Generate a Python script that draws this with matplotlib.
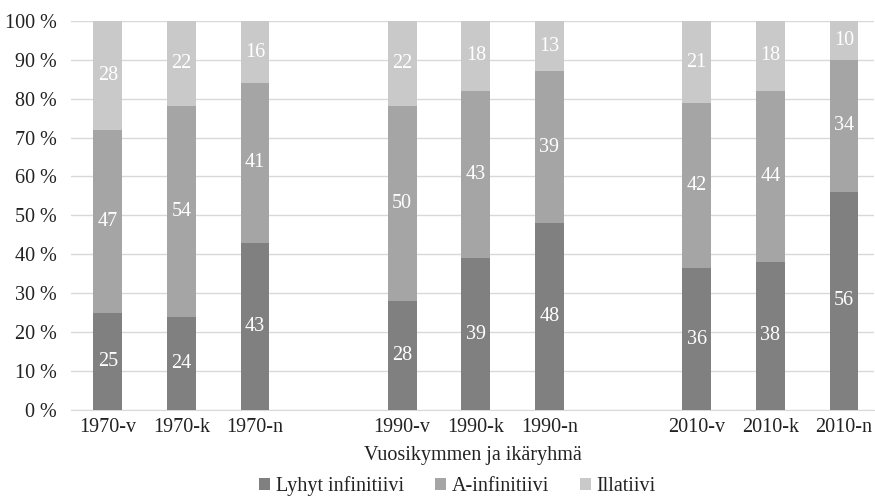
import numpy as np
import matplotlib.pyplot as plt

plt.rcParams['font.family'] = ['Liberation Serif', 'DejaVu Serif']

# categories (empty strings are the gaps between decades)
groups = ["1970-v", "1970-k", "1970-n", "", "1990-v", "1990-k", "1990-n", "", "2010-v", "2010-k", "2010-n"]

lyhyt = [25, 24, 43, None, 28, 39, 48, None, 36, 38, 56]
a_inf = [47, 54, 41, None, 50, 43, 39, None, 42, 44, 34]
illat = [28, 22, 16, None, 22, 18, 13, None, 21, 18, 10]

series_names = ["Lyhyt infinitiivi", "A-infinitiivi", "Illatiivi"]
colors = ["#808080", "#a5a5a5", "#c9c9c9"]

fig, ax = plt.subplots(figsize=(8.75, 4.98), dpi=100)
fig.subplots_adjust(left=0.081, right=0.999, top=0.958, bottom=0.177)

x = np.arange(len(groups))
idx = [i for i, g in enumerate(groups) if g != ""]
data = np.array([[lyhyt[i], a_inf[i], illat[i]] for i in idx], dtype=float)
pct = data / data.sum(axis=1, keepdims=True) * 100

fs = 14.5
bottom = np.zeros(len(idx))
for k in range(3):
    ax.bar(x[idx], pct[:, k], 0.39, bottom=bottom, color=colors[k],
           label=series_names[k], zorder=3)
    for j, i in enumerate(idx):
        ax.text(x[i], bottom[j] + pct[j, k] / 2, f"{int(data[j, k])}",
                ha="center", va="center", color="white", fontsize=fs, zorder=4)
    bottom += pct[:, k]

ax.set_xlim(-0.5, 10.41)
ax.set_ylim(0, 100)
ax.set_yticks(range(0, 101, 10))
ax.set_yticklabels([f"{v} %" for v in range(0, 101, 10)])
ax.set_xticks(x[idx])
ax.set_xticklabels([groups[i] for i in idx])
ax.tick_params(axis="both", length=0, labelsize=fs, colors="#222222", pad=6)
ax.tick_params(axis="y", pad=10)
ax.grid(axis="y", color="#d9d9d9", linewidth=1, zorder=0)
for s in ["top", "right", "left"]:
    ax.spines[s].set_visible(False)
ax.spines["bottom"].set_color("#d9d9d9")

ax.set_xlabel("Vuosikymmen ja ikäryhmä", fontsize=fs, color="#222222", labelpad=6)

ax.legend(loc="center", bbox_to_anchor=(0.523, 0.024), bbox_transform=fig.transFigure,
          ncol=3, frameon=False, fontsize=fs, handlelength=0.55, handleheight=0.55,
          handletextpad=0.3, columnspacing=1.5, labelcolor="#222222")

fig.savefig("out.png")
